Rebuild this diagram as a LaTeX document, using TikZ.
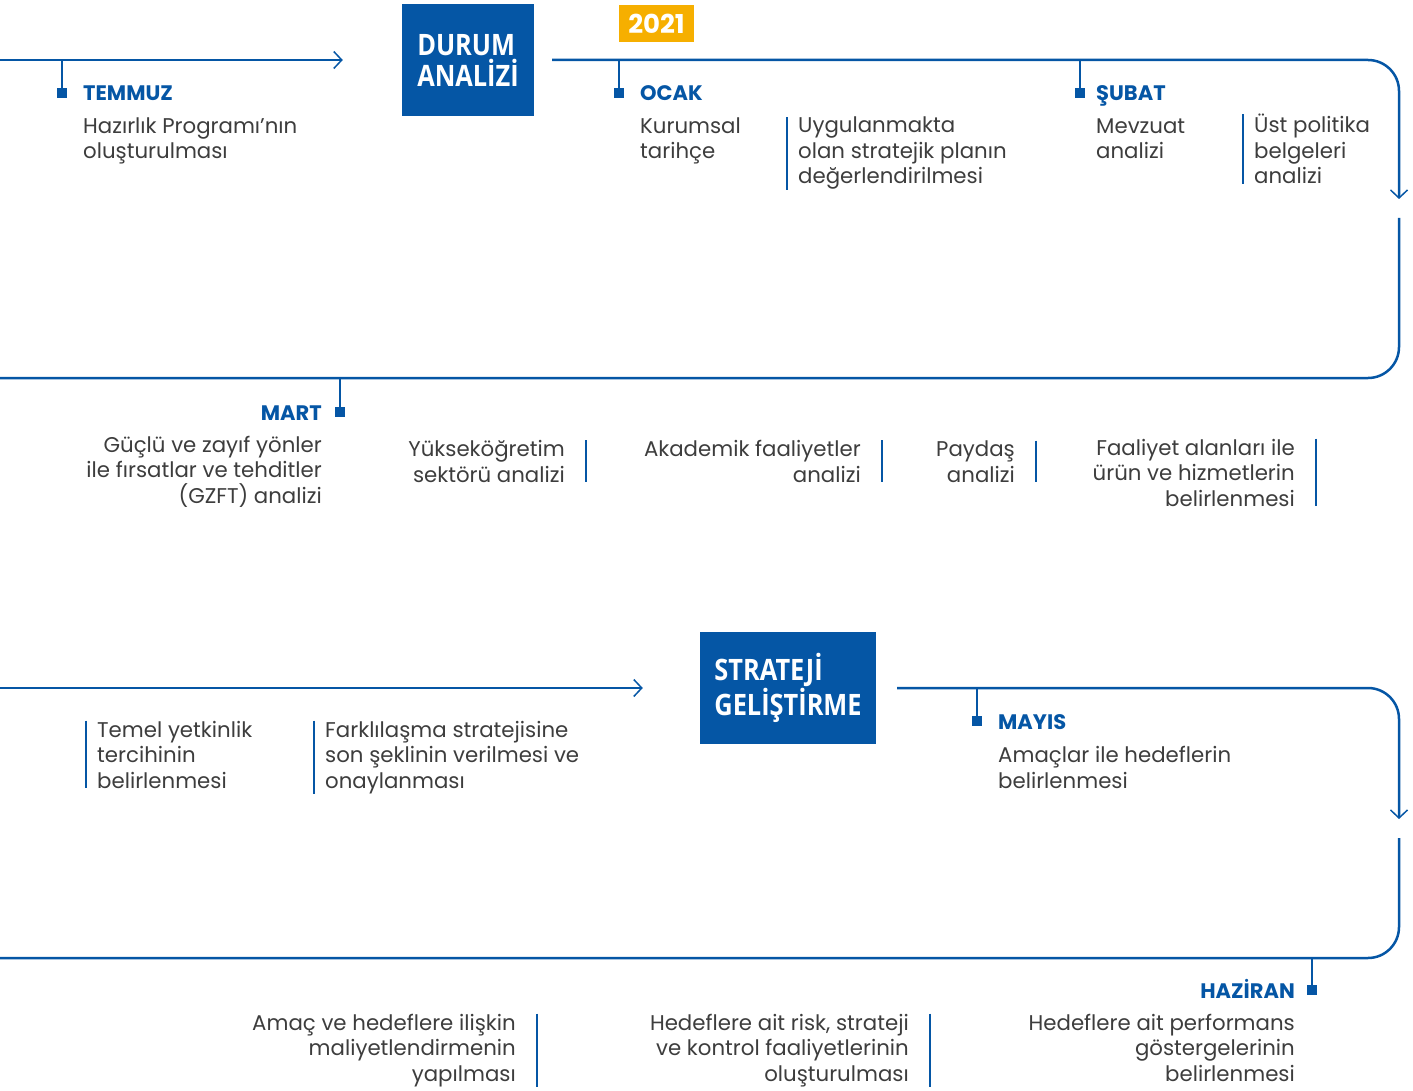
\documentclass[tikz,border=0pt]{standalone}
\usepackage{fontspec}
\setmainfont{Poppins}
\newfontfamily\boxfont[FakeStretch=0.86]{Open Sans}
\usetikzlibrary{arrows.meta}
\definecolor{dblue}{HTML}{0556A5}
\definecolor{yel}{HTML}{F6AF00}
\definecolor{txt}{HTML}{3D3D3D}

\begin{document}
\begin{tikzpicture}[x=1pt,y=-1pt]

\tikzset{flow/.style = {draw=dblue, line width=2.5pt}}
\tikzset{arr/.style = {-{Straight Barb[length=8pt,width=17pt,line width=1.5pt]}}}
\tikzset{phase/.style = {fill=dblue, text=white, minimum height=112pt, inner sep=0pt, align=left, font=\boxfont\bfseries\fontsize{29.5}{31}\selectfont}}
\tikzset{year/.style = {fill=yel, text=white, minimum width=75pt, minimum height=37pt, inner sep=0pt, font=\bfseries\fontsize{26}{28}\selectfont}}
\tikzset{tick/.style = {fill=dblue, minimum size=10pt, inner sep=0pt}}
\tikzset{month/.style = {text=dblue, inner sep=0pt, font=\bfseries\fontsize{21}{24}\selectfont}}
\tikzset{task/.style = {text=txt, inner sep=0pt, font=\fontsize{21.3}{25.5}\selectfont}}
\tikzset{sep/.style = {draw=dblue, line width=2.5pt}}

\useasboundingbox (0,0) rectangle (1413,1091);

% boxes
\node[phase, minimum width=132pt] (durum) at (468,60) {DURUM\\ANALİZİ};
\node[phase, minimum width=176pt] (strateji) at (788,688) {STRATEJİ\\GELİŞTİRME};
\node[year] (yil) at (656.5,23.5) {2021};

% line ends
\coordinate (s1) at (0,60);
\coordinate (d1) at (1399,199);
\coordinate (d2) at (1399,218);
\coordinate (e1) at (0,378);
\coordinate (s3) at (0,688);
\coordinate (d3) at (1399,819);
\coordinate (d4) at (1399,838);
\coordinate (e3) at (0,958);

% months
\node[tick] (t-temmuz) at (62,93) {};
\node[month, anchor=base west] (temmuz) at (83,101) {TEMMUZ};
\node[tick] (t-ocak) at (619,93) {};
\node[month, anchor=base west] (ocak) at (640,101) {OCAK};
\node[tick] (t-subat) at (1080,93) {};
\node[month, anchor=base west] (subat) at (1096,101) {ŞUBAT};
\node[tick] (t-mart) at (340,412) {};
\node[month, anchor=base east] (mart) at (322,420) {MART};
\node[tick] (t-mayis) at (977,721) {};
\node[month, anchor=base west] (mayis) at (998,729) {MAYIS};
\node[tick] (t-haziran) at (1312,990) {};
\node[month, anchor=base east] (haziran) at (1295,998) {HAZİRAN};

% tasks (placed at the baseline of the last line)
\node[task, anchor=base west, align=left] (hazirlik) at (83,159) {Hazırlık Programı’nın\\oluşturulması};
\node[task, anchor=base west, align=left] (tarihce) at (640,159) {Kurumsal\\tarihçe};
\node[task, anchor=base west, align=left] (stratplan) at (798,184) {Uygulanmakta\\olan stratejik planın\\değerlendirilmesi};
\node[task, anchor=base west, align=left] (mevzuat) at (1096,159) {Mevzuat\\analizi};
\node[task, anchor=base west, align=left] (ustpol) at (1254,184) {Üst politika\\belgeleri\\analizi};

\node[task, anchor=base east, align=right] (gzft) at (322,503) {Güçlü ve zayıf yönler\\ile fırsatlar ve tehditler\\(GZFT) analizi};
\node[task, anchor=base east, align=right] (yok) at (565,482) {Yükseköğretim\\sektörü analizi};
\node[task, anchor=base east, align=right] (akademik) at (861,482) {Akademik faaliyetler\\analizi};
\node[task, anchor=base east, align=right] (paydas) at (1015,482) {Paydaş\\analizi};
\node[task, anchor=base east, align=right] (faaliyet) at (1295,506) {Faaliyet alanları ile\\ürün ve hizmetlerin\\belirlenmesi};

\node[task, anchor=base west, align=left] (yetkinlik) at (97,788) {Temel yetkinlik\\tercihinin\\belirlenmesi};
\node[task, anchor=base west, align=left] (farklilasma) at (325,788) {Farklılaşma stratejisine\\son şeklinin verilmesi ve\\onaylanması};
\node[task, anchor=base west, align=left] (amaclar) at (998,788) {Amaçlar ile hedeflerin\\belirlenmesi};

\node[task, anchor=base east, align=right] (maliyet) at (516,1081) {Amaç ve hedeflere ilişkin\\maliyetlendirmenin\\yapılması};
\node[task, anchor=base east, align=right] (risk) at (909,1081) {Hedeflere ait risk, strateji\\ve kontrol faaliyetlerinin\\oluşturulması};
\node[task, anchor=base east, align=right] (performans) at (1295,1081) {Hedeflere ait performans\\göstergelerinin\\belirlenmesi};

% timeline
\draw[flow, arr, shorten >=59pt] (s1) -- (durum);
\draw[flow, arr, rounded corners=31pt, shorten <=18pt] (durum.east) -| (d1);
\draw[flow, rounded corners=31pt] (d2) |- (e1);
\draw[flow, arr, shorten >=57pt] (s3) -- (strateji);
\draw[flow, arr, rounded corners=31pt, shorten <=21pt] (strateji.east) -| (d3);
\draw[flow, rounded corners=31pt] (d4) |- (e3);

% stems
\draw[flow] (t-temmuz.center) -- (t-temmuz |- s1);
\draw[flow] (t-ocak.center) -- (t-ocak |- s1);
\draw[flow] (t-subat.center) -- (t-subat |- s1);
\draw[flow] (t-mart.center) -- (t-mart |- e1);
\draw[flow] (t-mayis.center) -- (t-mayis |- s3);
\draw[flow] (t-haziran.center) -- (t-haziran |- e3);

% separators
\foreach \n in {stratplan, ustpol, yetkinlik, farklilasma}
  \draw[sep] ([xshift=-11pt]\n.north west) -- ([xshift=-11pt]\n.south west);
\foreach \n in {yok, akademik, paydas, faaliyet, maliyet, risk}
  \draw[sep] ([xshift=21pt]\n.north east) -- ([xshift=21pt]\n.south east);

\end{tikzpicture}
\end{document}
